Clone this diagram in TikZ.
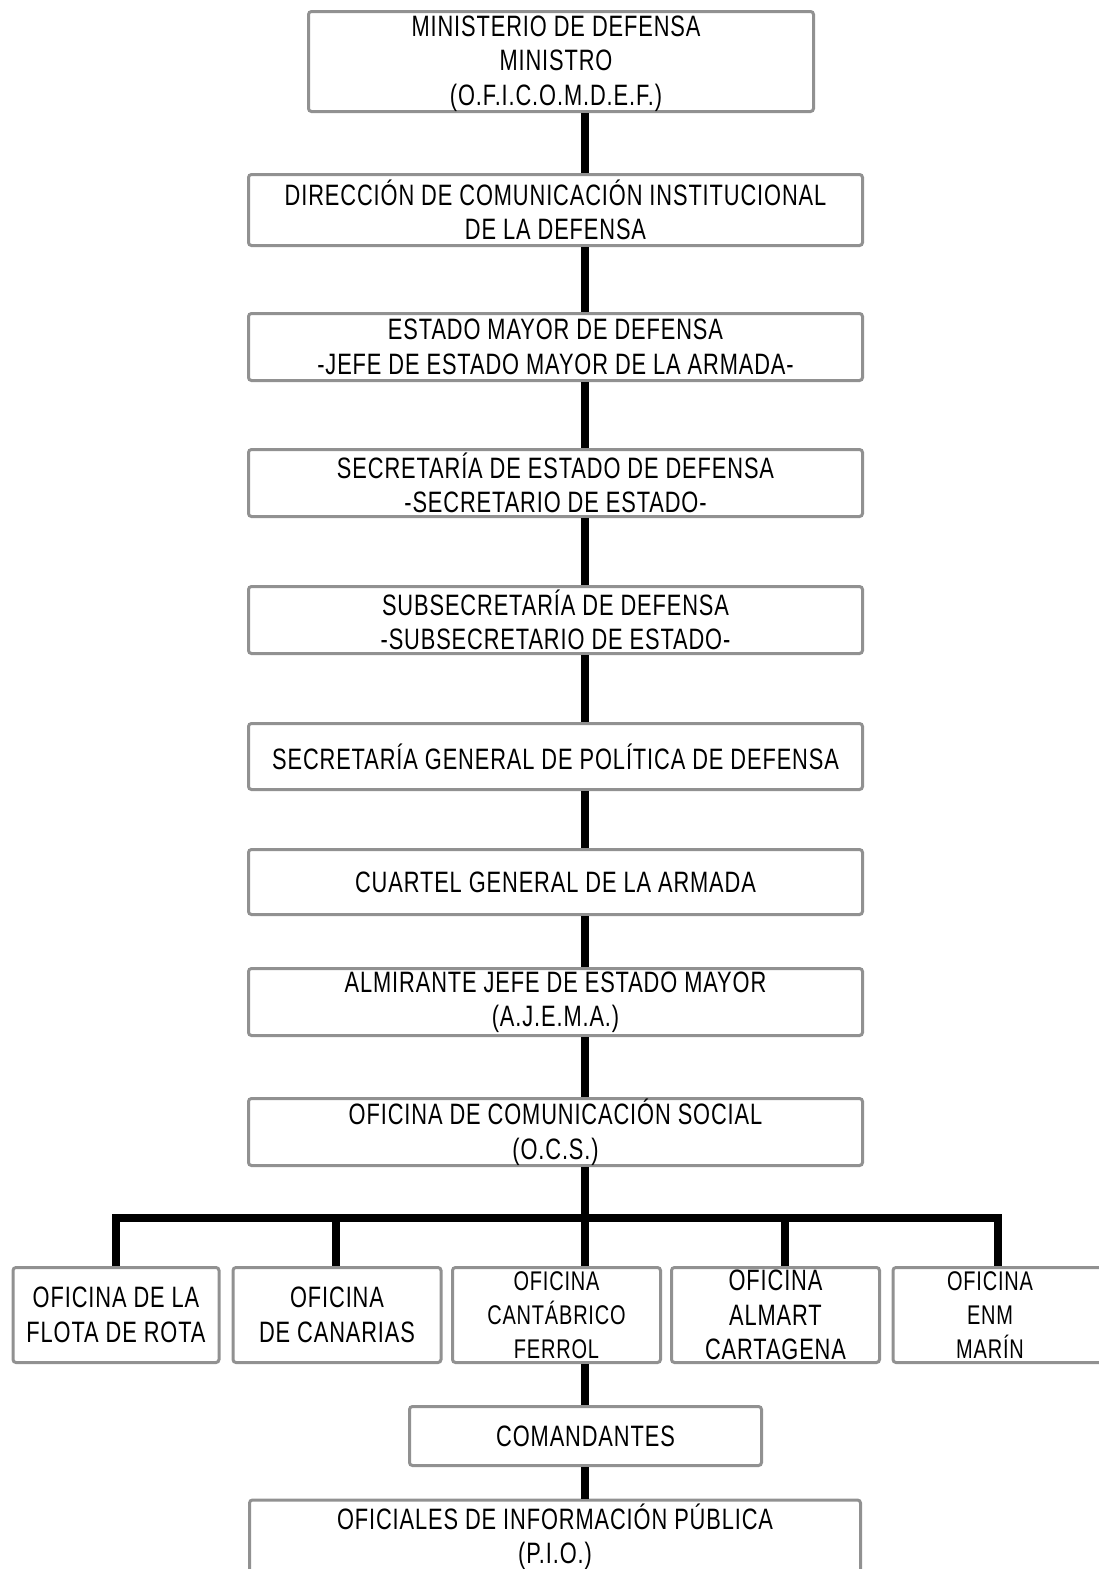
\documentclass[tikz,border=0pt]{standalone}
\usepackage{fontspec}
\setmainfont{Liberation Sans}[FakeStretch=0.74,LetterSpace=3]
\definecolor{boxgray}{RGB}{145,145,145}
\newcommand\orgfont{\fontsize{29.5}{34.5}\selectfont}
\newcommand\orgsmall{\fontsize{27}{34}\selectfont}
\tikzset{
  orgbox/.style={draw=boxgray, line width=3pt, rounded corners=3pt, inner sep=0pt,
    align=center, font=\orgfont, text=black, fill=white},
  link/.style={line width=8pt, draw=black},
}
\begin{document}
\begin{tikzpicture}[x=1pt,y=-1pt]
\useasboundingbox (0,0) rectangle (1099,1569);
\clip (0,0) rectangle (1099,1569);
\fill[white] (0,0) rectangle (1099,1569);
% main column
\node[orgbox, minimum width=505pt, minimum height=100pt] (b1) at (561,61.5) {};
\node[font=\orgfont, align=center, inner sep=0pt] (b1text) at (556,63.5)
  {MINISTERIO DE DEFENSA\\MINISTRO\\(O.F.I.C.O.M.D.E.F.)};
\node[orgbox, minimum width=614pt, minimum height=71pt] (b2) at (555.5,210)
  {DIRECCIÓN DE COMUNICACIÓN INSTITUCIONAL\\DE LA DEFENSA};
\node[orgbox, minimum width=614pt, minimum height=67pt] (b3) at (555.5,347)
  {ESTADO MAYOR DE DEFENSA\\-JEFE DE ESTADO MAYOR DE LA ARMADA-};
\node[orgbox, minimum width=614pt, minimum height=67pt] (b4) at (555.5,483)
  {SECRETARÍA DE ESTADO DE DEFENSA\\-SECRETARIO DE ESTADO-};
\node[orgbox, minimum width=614pt, minimum height=67pt] (b5) at (555.5,620)
  {SUBSECRETARÍA DE DEFENSA\\-SUBSECRETARIO DE ESTADO-};
\node[orgbox, minimum width=614pt, minimum height=66pt] (b6) at (555.5,756.5)
  {SECRETARÍA GENERAL DE POLÍTICA DE DEFENSA};
\node[orgbox, minimum width=614pt, minimum height=65pt] (b7) at (555.5,882)
  {CUARTEL GENERAL DE LA ARMADA};
\node[orgbox, minimum width=614pt, minimum height=67pt] (b8) at (555.5,1002)
  {ALMIRANTE JEFE DE ESTADO MAYOR\\(A.J.E.M.A.)};
\node[orgbox, minimum width=614pt, minimum height=67pt] (b9) at (555.5,1132)
  {OFICINA DE COMUNICACIÓN SOCIAL\\(O.C.S.)};
% lower row
\node[orgbox, minimum width=206pt, minimum height=95pt] (oa) at (116,1315)
  {OFICINA DE LA\\FLOTA DE ROTA};
\node[orgbox, minimum width=208pt, minimum height=95pt] (ob) at (337,1315)
  {OFICINA\\DE CANARIAS};
\node[orgbox, minimum width=208pt, minimum height=95pt, font=\orgsmall] (oc) at (556.5,1315)
  {OFICINA\\CANTÁBRICO\\FERROL};
\node[orgbox, minimum width=208pt, minimum height=95pt] (od) at (775.5,1315)
  {OFICINA\\ALMART\\CARTAGENA};
\node[orgbox, minimum width=210pt, minimum height=95pt] (oe) at (998,1315) {};
\node[font=\orgsmall, align=center, inner sep=0pt] (oetext) at (990,1315)
  {OFICINA\\ENM\\MARÍN};
\node[orgbox, minimum width=352pt, minimum height=59pt] (cm) at (585.5,1436)
  {COMANDANTES};
\node[orgbox, minimum width=611pt, minimum height=100pt] (pio) at (555,1550) {};
\node[font=\orgfont, align=center, inner sep=0pt] (piotext) at (555,1536.5)
  {OFICIALES DE INFORMACIÓN PÚBLICA\\(P.I.O.)};
% connectors
\coordinate (spine) at (585,0);
\coordinate (busA) at (116,1218);
\coordinate (busB) at (336,1218);
\coordinate (busC) at (585,1218);
\coordinate (busD) at (785,1218);
\coordinate (busE) at (998,1218);
\draw[link] (b1.south -| spine) -- (b2.north -| spine);
\draw[link] (b2.south -| spine) -- (b3.north -| spine);
\draw[link] (b3.south -| spine) -- (b4.north -| spine);
\draw[link] (b4.south -| spine) -- (b5.north -| spine);
\draw[link] (b5.south -| spine) -- (b6.north -| spine);
\draw[link] (b6.south -| spine) -- (b7.north -| spine);
\draw[link] (b7.south -| spine) -- (b8.north -| spine);
\draw[link] (b8.south -| spine) -- (b9.north -| spine);
\draw[link] (b9.south -| spine) -- (busC);
\draw[link] (oa.north -| busA) -- (busA) -- (busE) -- (oe.north -| busE);
\draw[link] (busB) -- (ob.north -| busB);
\draw[link] (busC) -- (oc.north -| busC);
\draw[link] (busD) -- (od.north -| busD);
\draw[link] (oc.south -| spine) -- (cm.north -| spine);
\draw[link] (cm.south -| spine) -- (pio.north -| spine);
\end{tikzpicture}
\end{document}
